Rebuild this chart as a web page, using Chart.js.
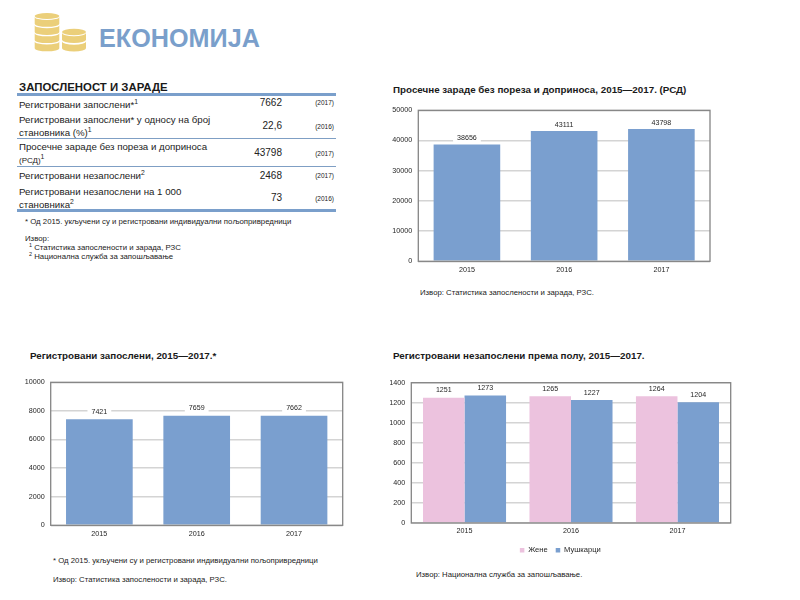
<!DOCTYPE html>
<html><head><meta charset="utf-8">
<script src="https://cdn.jsdelivr.net/npm/chart.js@4"></script>
<style>
html,body{margin:0;padding:0;background:#fff;width:800px;height:600px;overflow:hidden;font-family:"Liberation Sans",Arial,sans-serif;color:#222}
.t{position:absolute;white-space:nowrap}
.b{font-weight:bold;color:#1a1a1a}
canvas{position:absolute}
sup{font-size:70%;line-height:0;vertical-align:baseline;position:relative;top:-.55em}
.rule{position:absolute;left:17px;width:319px;background:#7a9fcb}
</style></head><body>
<svg style="position:absolute;left:33px;top:12px" width="56" height="44" viewBox="0 0 56 44" id="coins"></svg>
<div class="t b" style="left:99px;top:23.5px;font-size:25.2px;color:#7a9fcb">ЕКОНОМИЈА</div>
<div class="t b" style="left:19px;top:81px;font-size:11.4px;">ЗАПОСЛЕНОСТ И ЗАРАДЕ</div>
<div id="table"></div>
<div class="t" style="left:25px;top:216.5px;font-size:7.8px">* Од 2015. укључени су и регистровани индивидуални пољопривредници</div>
<div class="t" style="left:25px;top:234px;font-size:7.8px">Извор:</div>
<div class="t" style="left:29px;top:243px;font-size:7.8px"><sup>1</sup> Статистика запослености и зарада, РЗС</div>
<div class="t" style="left:29px;top:252px;font-size:7.8px"><sup>2</sup> Национална служба за запошљавање</div>

<div class="t b" style="left:393px;top:84px;font-size:9.8px">Просечне зараде без пореза и доприноса, 2015—2017. (РСД)</div>
<canvas id="c1" style="left:380px;top:100px"></canvas>
<div class="t" style="left:420px;top:288px;font-size:7.75px">Извор: Статистика запослености и зарада, РЗС.</div>

<div class="t b" style="left:30px;top:350px;font-size:9.8px">Регистровани запослени, 2015—2017.*</div>
<canvas id="c2" style="left:10px;top:372px"></canvas>
<div class="t" style="left:53px;top:556px;font-size:7.75px">* Од 2015. укључени су и регистровани индивидуални пољопривредници</div>
<div class="t" style="left:53px;top:574.5px;font-size:7.75px">Извор: Статистика запослености и зарада, РЗС.</div>

<div class="t b" style="left:393px;top:350px;font-size:9.8px">Регистровани незапослени према полу, 2015—2017.</div>
<canvas id="c3" style="left:390px;top:372px"></canvas>
<div class="t" style="left:416px;top:570px;font-size:7.75px">Извор: Национална служба за запошљавање.</div>

<script>
const years = ["2015","2016","2017"];
const wages = [38656,43111,43798];
const employed = [7421,7659,7662];
const unemployedWomen = [1251,1265,1264];
const unemployedMen = [1273,1227,1204];
const seriesNames = ["Жене","Мушкарци"];
const tableLabels = [
 ["Регистровани запослени*<sup>1</sup>"],
 ["Регистровани запослени* у односу на број","становника (%)<sup>1</sup>"],
 ["Просечне зараде без пореза и доприноса","<span style='font-size:8px'>(РСД)</span><sup>1</sup>"],
 ["Регистровани незапослени<sup>2</sup>"],
 ["Регистровани незапослени на 1 000","становника<sup>2</sup>"]
];
const tableValues = ["7662","22,6","43798","2468","73"];
const tableYears = ["(2017)","(2016)","(2017)","(2017)","(2016)"];

const BLUE="#7a9fcf", PINK="#ecc2de", GRID="#d4d4d4", FRAME="#858585", TXT="#262626";
const FONT='"Liberation Sans", Arial, sans-serif';

// table
(function(){
  const host=document.getElementById("table");
  const rows=[[99.5,null,97.5],[114.5,127.5,121],[141.5,155,148],[170.5,null,170.5],[186.5,199.5,193]];
  const rules=[[93,3],[138,1],[166,1],[209,3]];
  let h="";
  rules.forEach(r=>h+=`<div class="rule" style="top:${r[0]}px;height:${r[1]}px${r[1]===1?";background:#7f9fc4":""}"></div>`);
  tableLabels.forEach((ls,i)=>{
    ls.forEach((l,j)=>{
      const y=rows[i][j===0?0:1];
      h+=`<div class="t" style="left:19px;top:${y-1}px;font-size:9.7px">${l}</div>`;
    });
    h+=`<div class="t" style="right:518px;top:${rows[i][2]-1}px;font-size:10px">${tableValues[i]}</div>`;
    h+=`<div class="t" style="right:466px;top:${rows[i][2]+1.5}px;font-size:6.5px">${tableYears[i]}</div>`;
  });
  host.innerHTML=h;
})();

// coins
(function(){
  const s=document.getElementById("coins");
  const col="#ebcf7a";
  const stack=(cx,tops,rx,ry)=>tops.map((y,i)=>
    `<path d="M${cx-rx} ${y}v6.8a${rx} ${ry} 0 0 0 ${rx*2} 0v-6.8a${rx} ${ry} 0 0 1 -${rx*2} 0z" fill="${col}"/>`+
    (i===0?`<ellipse cx="${cx}" cy="${y-1}" rx="${rx}" ry="${ry}" fill="${col}"/>`:"")).join("");
  s.innerHTML=stack(14,[5,13.2,21.3,29.5],12.3,3)+stack(41,[21,29.5],12,3.2);
})();

const labelPlugin={id:"valueLabels",afterDatasetsDraw(c,args,opts){
  const g=c.ctx; g.save();
  g.font="7.1px "+FONT; g.textAlign="center"; g.textBaseline="middle";
  c.data.datasets.forEach((d,di)=>{
    c.getDatasetMeta(di).data.forEach((el,i)=>{
      const txt=String(d.data[i]), y=el.y-opts.offset, w=g.measureText(txt).width+8;
      g.fillStyle="#fff"; g.fillRect(el.x-w/2,y-4.5,w,9);
      g.fillStyle=TXT; g.fillText(txt,el.x,y);
    });
  });
  g.restore();
}};
const framePlugin={id:"frame",afterDatasetsDraw(c){
  const a=c.chartArea,g=c.ctx; g.save();
  g.strokeStyle=FRAME; g.lineWidth=1.3;
  g.strokeRect(a.left,a.top,a.right-a.left,a.bottom-a.top);
  g.restore();
}};

function makeChart(id,w,h,box,datasets,yMax,step,legend,catPct,barPct,labelOffset){
  const el=document.getElementById(id);
  el.width=w; el.height=h; el.style.width=w+"px"; el.style.height=h+"px";
  return new Chart(el,{
    type:"bar",
    data:{labels:years,datasets},
    plugins:[labelPlugin,framePlugin],
    options:{
      responsive:false,animation:false,devicePixelRatio:1,
      layout:{padding:{left:0,top:box.top,right:box.right,bottom:box.bottom}},
      datasets:{bar:{categoryPercentage:catPct,barPercentage:barPct}},
      plugins:{tooltip:{enabled:false},title:{display:false},valueLabels:{offset:labelOffset},
        legend:legend?{display:true,position:"bottom",align:"center",
          labels:{boxWidth:4.5,boxHeight:4.5,padding:8,color:TXT,font:{family:FONT,size:7.6}}}:{display:false}},
      scales:{
        x:{grid:{display:false,drawTicks:false},border:{display:false},
           ticks:{color:TXT,font:{family:FONT,size:7.2},padding:4,maxRotation:0},
           afterFit(s){s.height=box.xh;}},
        y:{min:0,max:yMax,grid:{color:GRID,lineWidth:1.4,drawTicks:false},border:{display:false},
           ticks:{stepSize:step,color:TXT,font:{family:FONT,size:7.2},padding:6,
             callback:v=>String(v)},
           afterFit(s){s.width=box.left;}}
      }
    }
  });
}

makeChart("c1",350,180,{left:38.3,top:9.5,right:20,bottom:0,xh:18.7},
  [{label:"Просечне зараде",data:wages,backgroundColor:BLUE}],50000,10000,false,1,0.685,6.4);
makeChart("c2",350,170,{left:40.7,top:9.7,right:17.3,bottom:0,xh:16.7},
  [{label:"Регистровани запослени",data:employed,backgroundColor:BLUE}],10000,2000,false,1,0.685,7.6);
makeChart("c3",370,192,{left:21.3,top:10.7,right:29.3,bottom:0,xh:15.4},
  [{label:seriesNames[0],data:unemployedWomen,backgroundColor:PINK},
   {label:seriesNames[1],data:unemployedMen,backgroundColor:BLUE}],1400,200,true,0.78,1,7.4);
</script>
</body></html>
